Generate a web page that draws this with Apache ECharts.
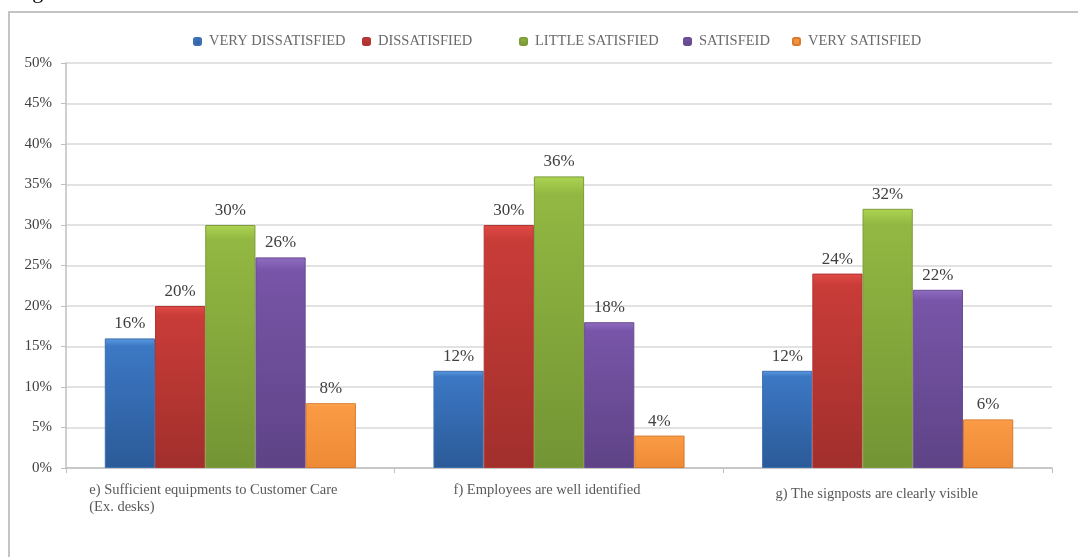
<!DOCTYPE html>
<html>
<head>
<meta charset="utf-8">
<script src="https://cdn.jsdelivr.net/npm/echarts@6/dist/echarts.min.js"></script>
<style>html,body{margin:0;padding:0;background:#fff;}#c{width:1078px;height:557px;}</style>
</head>
<body>
<div id="c"></div>
<script>
const categories = [
  "e) Sufficient equipments to Customer Care\n(Ex. desks)",
  "f) Employees are well identified",
  "g) The signposts are clearly visible"
];
const seriesNames = ["VERY DISSATISFIED", "DISSATISFIED", "LITTLE SATISFIED", "SATISFEID", "VERY SATISFIED"];
const veryDissatisfied = [16, 12, 12];
const dissatisfied = [20, 30, 24];
const littleSatisfied = [30, 36, 32];
const satisfied = [26, 18, 22];
const verySatisfied = [8, 4, 6];
const yTicks = [0, 5, 10, 15, 20, 25, 30, 35, 40, 45, 50];

const values = [veryDissatisfied, dissatisfied, littleSatisfied, satisfied, verySatisfied];
const palette = [
  ['#5a9ae0', '#3c78c4', '#2b5a98', '#3e6fae'],
  ['#e04a45', '#c93c38', '#a12f2c', '#b23533'],
  ['#acd452', '#93b842', '#739434', '#7e9c3a'],
  ['#8f6dc0', '#7855a8', '#5e4386', '#6a4c92'],
  ['#fdaa55', '#fa9a45', '#ee8a35', '#d9792c']
];
const legendLefts = [193, 362, 519, 683, 792];
const font = '"Liberation Serif", "DejaVu Serif", serif';

const chart = echarts.init(document.getElementById('c'), null, {renderer: 'canvas'});
const series = seriesNames.map((name, i) => ({
  name: name,
  type: 'bar',
  data: values[i],
  barGap: '0%',
  barCategoryGap: '23.6%',
  itemStyle: {
    color: new echarts.graphic.LinearGradient(0, 0, 0, 1, [
      {offset: 0, color: palette[i][0]},
      {offset: 0.06, color: palette[i][1]},
      {offset: 1, color: palette[i][2]}
    ]),
    borderColor: palette[i][3],
    borderWidth: 1
  },
  label: {
    show: true,
    position: 'top',
    distance: 6,
    formatter: '{c}%',
    fontFamily: font,
    fontSize: 17,
    color: '#404040'
  }
}));

const legends = seriesNames.map((name, i) => ({
  data: [name],
  top: 34,
  left: legendLefts[i],
  padding: 0,
  itemWidth: 7,
  itemHeight: 7,
  itemGap: 0,
  icon: 'roundRect',
  textStyle: {fontFamily: font, fontSize: 14.5, color: '#6a6a6a', padding: [0, 0, 0, 3]}
}));

chart.setOption({
  animation: false,
  color: palette.map(p => p[1]),
  graphic: [
    {type: 'rect', shape: {x: 9, y: 12, width: 1100, height: 600},
     style: {fill: 'none', stroke: '#c4c4c4', lineWidth: 2}, silent: true},
    {type: 'text', left: 14, top: -19, style: {text: 'Fig', font: '22px "Liberation Serif"', fill: '#000'}}
  ],
  legend: legends,
  grid: {left: 66, right: 26, top: 63, bottom: 89, containLabel: false},
  xAxis: {
    type: 'category',
    data: categories,
    axisLine: {lineStyle: {color: '#bfbfbf', width: 1.5}},
    axisTick: {show: true, length: 5, lineStyle: {color: '#bfbfbf'}},
    axisLabel: {
      margin: 14,
      interval: 0,
      fontFamily: font,
      fontSize: 14.5,
      color: '#595959',
      lineHeight: 17,
      formatter: function (v, idx) {
        const tag = ['a', 'b', 'g'][idx];
        return v.split('\n').map(s => '{' + tag + '|' + s + '}').join('\n');
      },
      rich: {
        a: {align: 'left', fontFamily: font, fontSize: 14.5, color: '#595959', lineHeight: 17, padding: [0, 34, 0, 0]},
        b: {align: 'left', fontFamily: font, fontSize: 14.5, color: '#595959', lineHeight: 17, padding: [0, 24, 0, 0]},
        g: {align: 'left', fontFamily: font, fontSize: 14.5, color: '#595959', lineHeight: 17, padding: [8, 22, 0, 0]}
      }
    }
  },
  yAxis: {
    type: 'value',
    min: yTicks[0],
    max: yTicks[yTicks.length - 1],
    interval: yTicks[1] - yTicks[0],
    axisLine: {show: true, lineStyle: {color: '#bfbfbf', width: 1.5}},
    axisTick: {show: true, length: 5, lineStyle: {color: '#bfbfbf'}},
    axisLabel: {formatter: '{value}%', fontFamily: font, fontSize: 15, color: '#404040', margin: 14},
    splitLine: {lineStyle: {color: '#e2e2e2', width: 2}}
  },
  series: series
});
</script>
</body>
</html>
